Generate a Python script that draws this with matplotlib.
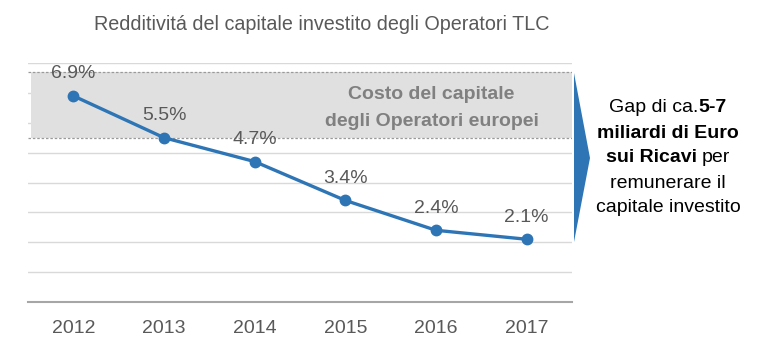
import numpy as np
import matplotlib.pyplot as plt
from matplotlib.patches import Polygon

plt.rcParams['font.family'] = ['Liberation Sans', 'DejaVu Sans']

# data
years = ['2012', '2013', '2014', '2015', '2016', '2017']
roic = [6.9, 5.5, 4.7, 3.4, 2.4, 2.1]
wacc_low, wacc_high = 5.5, 7.7

title = 'Redditivitá del capitale investito degli Operatori TLC'
band_text = 'Costo del capitale\ndegli Operatori europei'
# right side note: (text, bold) pieces for each line
note_lines = [
    [('Gap di ca.', False), ('5-7', True)],
    [('miliardi di Euro', True)],
    [('sui Ricavi', True), (' per', False)],
    [('remunerare il', False)],
    [('capitale investito', False)],
]

blue = '#2E75B6'
grey_txt = '#595959'

W, H = 763, 351
fig = plt.figure(figsize=(W / 100, H / 100), dpi=100)
ax = fig.add_axes([28 / W, 49 / H, 544 / W, 239 / H])

x = np.arange(len(years))
ax.set_xlim(-0.5, len(years) - 0.5)
ax.set_ylim(0, 8)
ax.set_yticks(range(0, 9))
ax.yaxis.grid(True, color='#D9D9D9', lw=1)
ax.set_axisbelow(True)
ax.tick_params(axis='y', length=0, labelleft=False)
ax.set_xticks(x)
ax.set_xticklabels(years)
ax.tick_params(axis='x', length=0, labelsize=14, colors=grey_txt, pad=13)
for s in ['top', 'left', 'right']:
    ax.spines[s].set_visible(False)
ax.spines['bottom'].set_color('#A6A6A6')
ax.spines['bottom'].set_linewidth(1.5)

# cost of capital band
ax.axhspan(wacc_low, wacc_high, xmin=0.006, color='#E0E0E0', zorder=1, lw=0)
for yv in (wacc_low, wacc_high):
    ax.axhline(yv, ls=(0, (2, 1.5)), color='#9A9A9A', lw=0.9, zorder=2)
ax.text(3.95, 6.5, band_text, ha='center', va='center', multialignment='center',
        fontsize=14, fontweight='bold', color='#808080', linespacing=1.75, zorder=2)

ax.plot(x, roic, color=blue, lw=2.4, marker='o', ms=7.5, zorder=3)
for xi, v in zip(x, roic):
    ax.annotate(f'{v:.1f}%', (xi, v), xytext=(0, 16), textcoords='offset points',
                ha='center', va='center', fontsize=14, color=grey_txt, zorder=4)

fig.text(322 / W, 1 - 24 / H, title, ha='center', va='center', fontsize=14.2, color=grey_txt)

# chevron arrow
tri = Polygon([(574 / W, 1 - 73 / H), (590 / W, 1 - 158 / H), (574 / W, 1 - 242 / H)],
              closed=True, transform=fig.transFigure, color=blue, lw=0)
fig.patches.append(tri)

# right note with mixed bold
renderer = fig.canvas.get_renderer()
cx = 668
for i, parts in enumerate(note_lines):
    yc = 1 - (108 + 25 * i) / H
    texts, widths = [], []
    for s, b in parts:
        t = fig.text(0, yc, s.strip(), ha='left', va='center', fontsize=14,
                     fontweight='bold' if b else 'normal', color='black')
        texts.append((t, s.startswith(' ')))
        widths.append(t.get_window_extent(renderer).width)
    gap = 5
    total = sum(widths) + gap * sum(1 for t, sp in texts if sp)
    xpos = cx - total / 2
    for (t, sp), w in zip(texts, widths):
        if sp:
            xpos += gap
        t.set_x(xpos / W)
        xpos += w

fig.savefig('out.png', dpi=100)
